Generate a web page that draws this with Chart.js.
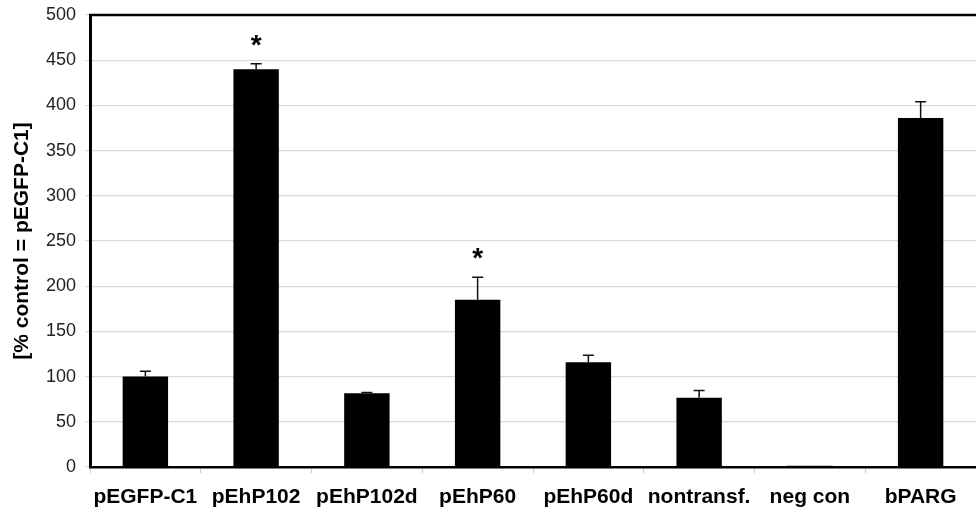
<!DOCTYPE html>
<html>
<head>
<meta charset="utf-8">
<script src="https://cdn.jsdelivr.net/npm/chart.js@4/dist/chart.umd.min.js"></script>
<style>
  html, body { margin: 0; padding: 0; background: #fff; overflow: hidden; }
  #wrap { width: 976px; height: 519px; position: relative; }
</style>
</head>
<body>
<div id="wrap"><canvas id="c"></canvas></div>
<script>
const categories = ['pEGFP-C1', 'pEhP102', 'pEhP102d', 'pEhP60', 'pEhP60d', 'nontransf.', 'neg con', 'bPARG'];
const values = [100, 440, 81.5, 185, 116, 76.5, 1.5, 386];
const errors = [6, 6, 1, 25, 7.5, 8, 0, 18];
const significance = ['', '*', '', '*', '', '', '', ''];
const yTicks = [0, 50, 100, 150, 200, 250, 300, 350, 400, 450, 500];
const yTitle = '[% control = pEGFP-C1]';

const errorAndStarPlugin = {
  id: 'errorAndStar',
  afterDatasetsDraw(chart) {
    const ctx = chart.ctx;
    const xs = chart.scales.x, ys = chart.scales.y;
    ctx.save();
    values.forEach((v, i) => {
      const x = xs.getPixelForValue(i);
      const y0 = ys.getPixelForValue(v);
      const y1 = ys.getPixelForValue(v + errors[i]);
      if (errors[i] > 0) {
        ctx.strokeStyle = '#111';
        ctx.lineWidth = 1.5;
        ctx.beginPath();
        ctx.moveTo(x, y0);
        ctx.lineTo(x, y1);
        ctx.moveTo(x - 5.5, y1);
        ctx.lineTo(x + 5.5, y1);
        ctx.stroke();
      }
      if (significance[i]) {
        ctx.fillStyle = '#000';
        ctx.font = 'bold 28px "Liberation Sans", Arial, sans-serif';
        ctx.textAlign = 'center';
        ctx.textBaseline = 'alphabetic';
        ctx.fillText(significance[i], x, y1 - 10);
      }
    });
    // top border of plot area
    const a = chart.chartArea;
    ctx.strokeStyle = '#000';
    ctx.lineWidth = 2.5;
    ctx.beginPath();
    ctx.moveTo(a.left - 1, a.top);
    ctx.lineTo(a.right, a.top);
    ctx.stroke();
    ctx.restore();
  }
};

new Chart(document.getElementById('c'), {
  type: 'bar',
  data: {
    labels: categories,
    datasets: [{
      data: values,
      backgroundColor: '#000',
      borderWidth: 0,
      barPercentage: 0.41,
      categoryPercentage: 1.0
    }]
  },
  options: {
    responsive: true,
    maintainAspectRatio: false,
    animation: false,
    devicePixelRatio: 1,
    layout: { padding: { top: 15, right: 0, bottom: 0, left: 0 } },
    plugins: { legend: { display: false }, tooltip: { enabled: false } },
    scales: {
      x: {
        afterFit(scale) { scale.height = 52; scale.paddingLeft = 0; scale.paddingRight = 0; },
        grid: {
          offset: true,
          drawOnChartArea: false,
          drawTicks: true,
          tickLength: 6,
          color: '#c8c8c8',
          lineWidth: 1
        },
        border: { display: true, color: '#000', width: 2.5 },
        ticks: {
          color: '#000',
          padding: 12,
          maxRotation: 0,
          autoSkip: false,
          font: { family: '"Liberation Sans", Arial, sans-serif', size: 21, weight: 'bold' }
        }
      },
      y: {
        min: 0,
        max: 500,
        afterFit(scale) { scale.width = 90; scale.paddingTop = 0; scale.paddingBottom = 0; },
        afterBuildTicks(scale) { scale.ticks = yTicks.map(v => ({ value: v })); },
        grid: {
          color: '#d9d9d9',
          lineWidth: 1.2,
          drawTicks: true,
          tickLength: 5
        },
        border: { display: true, color: '#000', width: 3 },
        ticks: {
          color: '#222',
          padding: 9,
          font: { family: '"Liberation Sans", Arial, sans-serif', size: 18 }
        },
        title: {
          display: true,
          text: yTitle,
          color: '#000',
          padding: { top: 10, bottom: 0 },
          font: { family: '"Liberation Sans", Arial, sans-serif', size: 21, weight: 'bold' }
        }
      }
    }
  },
  plugins: [errorAndStarPlugin]
});
</script>
</body>
</html>
